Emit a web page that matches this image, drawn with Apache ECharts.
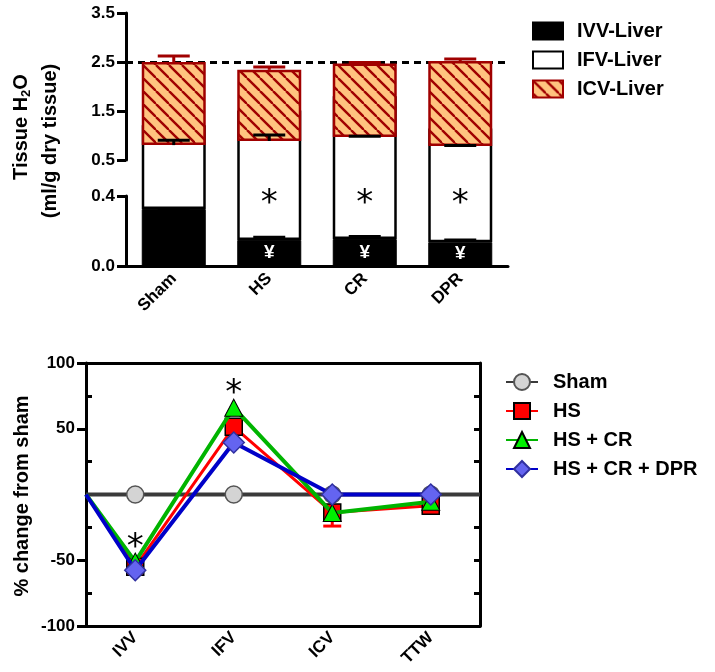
<!DOCTYPE html>
<html><head><meta charset="utf-8">
<script src="https://cdn.jsdelivr.net/npm/echarts@6/dist/echarts.min.js"></script>
<style>html,body{margin:0;padding:0;background:#fff}#c{width:715px;height:672px}</style>
</head><body><div id="c"></div>
<script>
// ---------- top panel data (ml/g dry tissue) ----------
const categories = ['Sham', 'HS', 'CR', 'DPR'];
const ivv = [0.326, 0.149, 0.154, 0.136];
const ifv = [0.478, 0.739, 0.816, 0.650];
const icv = [1.696, 1.452, 1.500, 1.734];
const ivvErr = [0.003, 0.016, 0.015, 0.012];
const ifvErr = [0.10, 0.12, 0.015, 0.012];
const icvErr = [0.12, 0.06, 0.02, 0.04];
const ivvMarks = ['', '¥', '¥', '¥'];
const ifvMarks = ['', '*', '*', '*'];
const ifvMarkY = 0.4;
const refLine = 2.5;
const lowerTicks = [0, 0.4];
const upperTicks = [0.5, 1.5, 2.5, 3.5];

// ---------- bottom panel data (% change from sham) ----------
const pctCategories = ['IVV', 'IFV', 'ICV', 'TTW'];
const lineStart = 0;
const sham = [0, 0, 0, 0];
const hs = [-55, 51.5, -13.6, -8.5];
const hsCr = [-51, 66, -14, -5.5];
const hsCrDpr = [-57.6, 39.5, 0, 0];
const hsErrDown = [0, 0, 10.4, 5];
const pctMarks = ['*', '*', '', ''];
const pctMarkY = [-35, 82.5, null, null];
const pctTicks = [-100, -50, 50, 100];
const pctMinorTicks = [-75, -25, 25, 75];
const pctRightTicks = [-75, -50, -25, 25, 50, 75];

const FONT = 'Liberation Sans, Arial, sans-serif';
const chart = echarts.init(document.getElementById('c'), null, {renderer: 'canvas'});

// diagonal "\" hatch fill tile
function makeHatch() {
  const s = 13;
  const cv = document.createElement('canvas');
  cv.width = s; cv.height = s;
  const ctx = cv.getContext('2d');
  ctx.fillStyle = '#FFC37F';
  ctx.fillRect(0, 0, s, s);
  ctx.strokeStyle = '#A00000';
  ctx.lineWidth = 2.4;
  [-s, 0, s].forEach(k => {
    ctx.beginPath(); ctx.moveTo(k, 0); ctx.lineTo(k + s, s); ctx.stroke();
  });
  return cv;
}
const hatchFill = {image: makeHatch(), repeat: 'repeat'};

function errRender(color, capW) {
  return function (params, api) {
    const x = api.value(0), top = api.value(1), err = api.value(2);
    const p0 = api.coord([x, top]);
    const p1 = api.coord([x, top + err]);
    return {type: 'group', children: [
      {type: 'line', shape: {x1: p0[0], y1: p0[1], x2: p1[0], y2: p1[1]}, style: {stroke: color, lineWidth: 3}},
      {type: 'line', shape: {x1: p1[0] - capW / 2, y1: p1[1], x2: p1[0] + capW / 2, y2: p1[1]}, style: {stroke: color, lineWidth: 3}}
    ]};
  };
}

const cum = ivv.map((v, i) => v + ifv[i]);
const total = cum.map((v, i) => v + icv[i]);
const xPos = pctCategories.map((c, i) => i + 0.5);
const xEnd = pctCategories.length;

function lineData(vals, withEnd) {
  const d = [{value: [0, lineStart], symbol: 'none'}];
  vals.forEach((v, i) => d.push([xPos[i], v]));
  if (withEnd) d.push({value: [xEnd, lineStart], symbol: 'none'});
  return d;
}

const axisBlack = {lineStyle: {color: '#000', width: 3}};
const tickLabel = {fontFamily: FONT, fontWeight: 'bold', fontSize: 17, color: '#000'};

const option = {
  animation: false,
  textStyle: {fontFamily: FONT},
  grid: [
    {left: 126, top: 196, width: 382, height: 70},
    {left: 126, top: 13, width: 382, height: 147},
    {left: 86, top: 363, width: 394, height: 263}
  ],
  legend: [
    {
      data: ['IVV-Liver', 'IFV-Liver', 'ICV-Liver'],
      orient: 'vertical', left: 532, top: 21, padding: 0,
      itemWidth: 30, itemHeight: 17, itemGap: 9, icon: 'rect',
      selectedMode: false,
      textStyle: {fontFamily: FONT, fontWeight: 'bold', fontSize: 20, color: '#000', padding: [0, 0, 0, 9]}
    },
    {
      data: ['Sham', 'HS', 'HS + CR', 'HS + CR + DPR'],
      orient: 'vertical', left: 505, top: 372, padding: 0,
      itemWidth: 32, itemHeight: 20, itemGap: 9,
      selectedMode: false,
      textStyle: {fontFamily: FONT, fontWeight: 'bold', fontSize: 20, color: '#000', padding: [0, 0, 0, 10]}
    }
  ],
  xAxis: [
    { // 0 lower top-panel axis
      type: 'category', gridIndex: 0, data: categories,
      axisLine: axisBlack,
      axisTick: {alignWithLabel: true, length: 10, lineStyle: {width: 3, color: '#000'}},
      axisLabel: Object.assign({rotate: 45, margin: 10}, tickLabel)
    },
    { // 1 upper top-panel (hidden)
      type: 'category', gridIndex: 1, data: categories, show: false
    },
    { // 2 bottom panel labels + inner ticks
      type: 'category', gridIndex: 2, data: pctCategories, position: 'bottom',
      axisLine: {onZero: false, lineStyle: {color: '#000', width: 3}},
      axisTick: {alignWithLabel: true, inside: true, length: 12, lineStyle: {width: 3, color: '#000'}},
      axisLabel: Object.assign({rotate: 45, margin: 9}, tickLabel)
    },
    { // 3 bottom panel short outer ticks
      type: 'category', gridIndex: 2, data: pctCategories, position: 'bottom',
      axisLine: {show: false, onZero: false},
      axisTick: {alignWithLabel: true, length: 4, lineStyle: {width: 3, color: '#000'}},
      axisLabel: {show: false}
    },
    { // 4 top frame
      type: 'category', gridIndex: 2, data: pctCategories, position: 'top',
      axisLine: {onZero: false, lineStyle: {color: '#000', width: 3}},
      axisTick: {alignWithLabel: true, inside: true, length: 10, lineStyle: {width: 3, color: '#000'}},
      axisLabel: {show: false}
    },
    { // 5 ticks on zero line
      type: 'category', gridIndex: 2, data: pctCategories, position: 'bottom',
      axisLine: {show: false, onZero: true},
      axisTick: {alignWithLabel: true, inside: true, length: 13, lineStyle: {width: 3, color: '#000'}},
      axisLabel: {show: false}
    },
    { // 6 value x axis for lines
      type: 'value', gridIndex: 2, min: 0, max: xEnd, show: false,
      axisLine: {onZero: false}
    }
  ],
  yAxis: [
    { // 0 lower
      type: 'value', gridIndex: 0, min: 0, max: 0.4,
      axisLine: {show: true, lineStyle: {color: '#000', width: 3}},
      axisTick: {show: true, customValues: lowerTicks, length: 9, lineStyle: {width: 3, color: '#000'}},
      axisLabel: Object.assign({customValues: lowerTicks, formatter: v => v.toFixed(1), margin: 11}, tickLabel),
      splitLine: {show: false}
    },
    { // 1 upper
      type: 'value', gridIndex: 1, min: 0.5, max: 3.5,
      axisLine: {show: true, lineStyle: {color: '#000', width: 3}},
      axisTick: {show: true, customValues: upperTicks, length: 9, lineStyle: {width: 3, color: '#000'}},
      axisLabel: Object.assign({customValues: upperTicks, formatter: v => v.toFixed(1), margin: 11}, tickLabel),
      splitLine: {show: false}
    },
    { // 2 bottom left
      type: 'value', gridIndex: 2, min: -100, max: 100, position: 'left',
      axisLine: {show: true, onZero: false, lineStyle: {color: '#000', width: 3}},
      axisTick: {show: true, customValues: pctTicks, length: 9, lineStyle: {width: 3, color: '#000'}},
      axisLabel: Object.assign({customValues: pctTicks, margin: 11}, tickLabel),
      splitLine: {show: false}
    },
    { // 3 bottom left minor ticks
      type: 'value', gridIndex: 2, min: -100, max: 100, position: 'left',
      axisLine: {show: false, onZero: false},
      axisTick: {show: true, inside: true, customValues: pctMinorTicks, length: 6, lineStyle: {width: 3, color: '#000'}},
      axisLabel: {show: false}, splitLine: {show: false}
    },
    { // 4 bottom right frame
      type: 'value', gridIndex: 2, min: -100, max: 100, position: 'right',
      axisLine: {show: true, onZero: false, lineStyle: {color: '#000', width: 3}},
      axisTick: {show: true, inside: true, customValues: pctRightTicks, length: 6, lineStyle: {width: 3, color: '#000'}},
      axisLabel: {show: false}, splitLine: {show: false}
    }
  ],
  graphic: [
    {type: 'text', x: 21, y: 127, rotation: Math.PI / 2,
      style: {text: 'Tissue H{s|2}O', fontFamily: FONT, fontWeight: 'bold', fontSize: 20, fill: '#000', align: 'center', verticalAlign: 'middle',
        rich: {s: {fontFamily: FONT, fontWeight: 'bold', fontSize: 13, fill: '#000', padding: [10, 0, 0, 0]}}}},
    {type: 'text', x: 50, y: 141, rotation: Math.PI / 2,
      style: {text: '(ml/g dry tissue)', fontFamily: FONT, fontWeight: 'bold', fontSize: 20, fill: '#000', align: 'center', verticalAlign: 'middle'}},
    {type: 'text', x: 22, y: 496, rotation: Math.PI / 2,
      style: {text: '% change from sham', fontFamily: FONT, fontWeight: 'bold', fontSize: 20, fill: '#000', align: 'center', verticalAlign: 'middle'}}
  ],
  series: [
    // ---- top panel lower grid (not clipped: bars continue across the break) ----
    {
      name: 'IVV-Liver', type: 'bar', xAxisIndex: 0, yAxisIndex: 0, stack: 'low', clip: false, z: 3,
      barWidth: 64,
      itemStyle: {color: '#000', borderColor: '#000', borderWidth: 1},
      data: ivv.map((v, i) => ({value: v, label: {show: !!ivvMarks[i], formatter: ivvMarks[i], position: 'inside',
        color: '#fff', fontFamily: FONT, fontWeight: 'bold', fontSize: 19}}))
    },
    {
      name: 'IFV-Liver', type: 'bar', xAxisIndex: 0, yAxisIndex: 0, stack: 'low', clip: false, z: 2,
      barWidth: 64,
      itemStyle: {color: '#fff', borderColor: '#000', borderWidth: 2.5},
      data: ifv,
      markPoint: {
        symbol: 'rect', symbolSize: 1, itemStyle: {color: 'rgba(0,0,0,0)'},
        label: {show: true, position: 'inside', formatter: p => p.name, color: '#000', fontFamily: 'DejaVu Sans', fontSize: 34, offset: [0, 8]},
        data: categories.map((c, i) => ifvMarks[i] ? {name: ifvMarks[i], coord: [c, ifvMarkY]} : null).filter(Boolean)
      }
    },
    // ---- top panel upper grid ----
    {
      name: 'ivv-base', type: 'bar', xAxisIndex: 1, yAxisIndex: 1, stack: 'up', barWidth: 64, silent: true,
      itemStyle: {color: 'rgba(0,0,0,0)', borderWidth: 0}, data: ivv
    },
    {
      name: 'ifv-base', type: 'bar', xAxisIndex: 1, yAxisIndex: 1, stack: 'up', barWidth: 64, silent: true,
      itemStyle: {color: 'rgba(0,0,0,0)', borderWidth: 0}, data: ifv
    },
    {
      name: 'ICV-Liver', type: 'bar', xAxisIndex: 1, yAxisIndex: 1, stack: 'up', barWidth: 64, z: 5,
      itemStyle: {color: hatchFill, borderColor: '#A00000', borderWidth: 2.5},
      data: icv,
      markLine: {
        silent: true, symbol: 'none', label: {show: false},
        lineStyle: {color: '#000', width: 3, type: [7, 5]},
        data: [{yAxis: refLine}]
      }
    },
    // error bars
    {type: 'custom', name: 'ivv-err', xAxisIndex: 0, yAxisIndex: 0, z: 6, renderItem: errRender('#000', 32),
      data: ivv.map((v, i) => [i, v, ivvErr[i]])},
    {type: 'custom', name: 'ifv-err', xAxisIndex: 1, yAxisIndex: 1, z: 6, renderItem: errRender('#000', 32),
      data: cum.map((v, i) => [i, v, ifvErr[i]])},
    {type: 'custom', name: 'icv-err', xAxisIndex: 1, yAxisIndex: 1, z: 6, renderItem: errRender('#A00000', 32),
      data: total.map((v, i) => [i, v, icvErr[i]])},
    // ---- bottom panel ----
    {type: 'custom', name: 'hs-err', xAxisIndex: 6, yAxisIndex: 2, z: 2, renderItem: errRender('#ff0000', 18),
      data: hs.map((v, i) => [xPos[i], v, -hsErrDown[i]]).filter((d, i) => hsErrDown[i] > 0)},
    {
      name: 'Sham', type: 'line', xAxisIndex: 6, yAxisIndex: 2, z: 3,
      symbol: 'circle', symbolSize: 17,
      lineStyle: {color: '#3a3a3a', width: 4},
      itemStyle: {color: '#d4d4d4', borderColor: '#555', borderWidth: 1.5},
      data: lineData(sham, true)
    },
    {
      name: 'HS', type: 'line', xAxisIndex: 6, yAxisIndex: 2, z: 4,
      symbol: 'rect', symbolSize: 17,
      lineStyle: {color: '#ff0000', width: 3},
      itemStyle: {color: '#ff0000', borderColor: '#000', borderWidth: 1.5},
      data: lineData(hs, false)
    },
    {
      name: 'HS + CR', type: 'line', xAxisIndex: 6, yAxisIndex: 2, z: 5,
      symbol: 'triangle', symbolSize: [18, 17],
      lineStyle: {color: '#00b400', width: 4},
      itemStyle: {color: '#00f000', borderColor: '#000', borderWidth: 1},
      data: lineData(hsCr, false)
    },
    {
      name: 'HS + CR + DPR', type: 'line', xAxisIndex: 6, yAxisIndex: 2, z: 6,
      symbol: 'diamond', symbolSize: [21, 21],
      lineStyle: {color: '#0000c8', width: 4},
      itemStyle: {color: '#6464f0', borderColor: '#3030a0', borderWidth: 1.5},
      data: lineData(hsCrDpr, false),
      markPoint: {
        symbol: 'rect', symbolSize: 1, itemStyle: {color: 'rgba(0,0,0,0)'},
        label: {show: true, position: 'inside', formatter: p => p.name, color: '#000', fontFamily: 'DejaVu Sans', fontSize: 34, offset: [0, 8]},
        data: pctMarks.map((m, i) => m ? {name: m, coord: [xPos[i], pctMarkY[i]]} : null).filter(Boolean)
      }
    }
  ]
};
chart.setOption(option);
</script>
</body></html>
